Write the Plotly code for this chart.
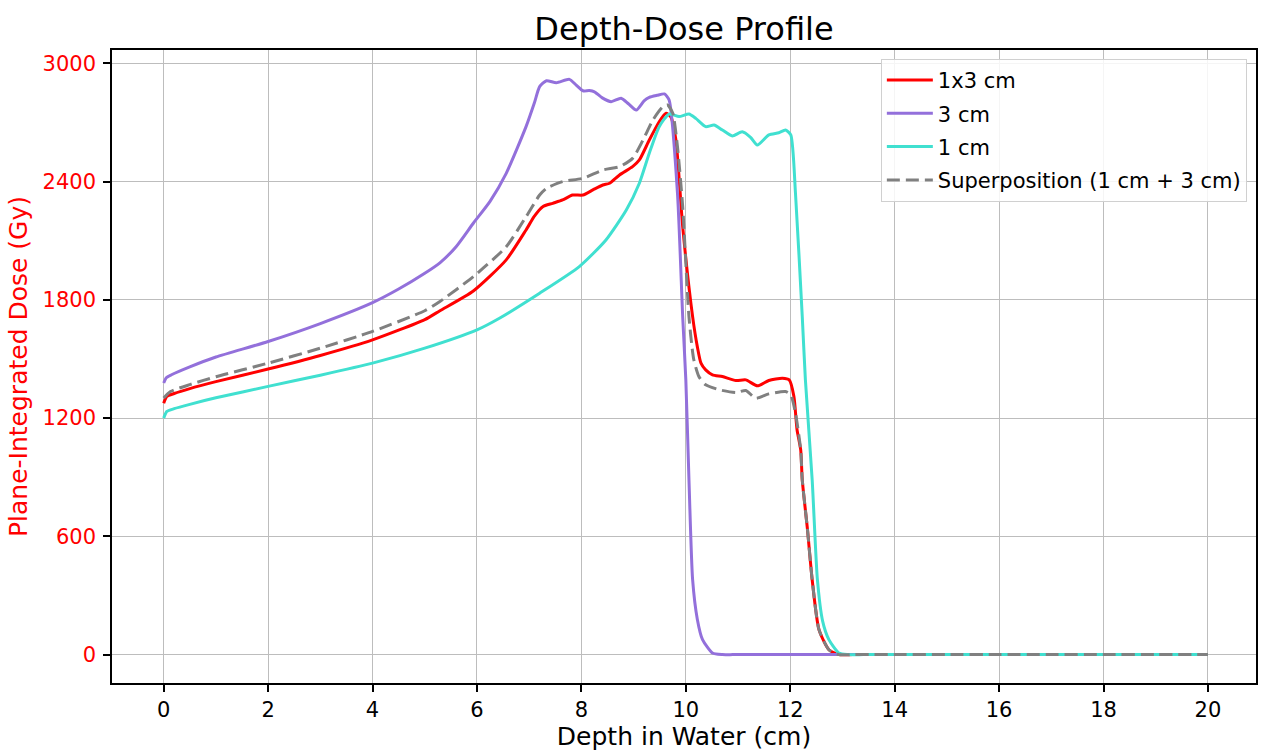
import plotly.graph_objects as go

# ---------------- data ----------------
x_1x3 = [0.0, 0.06, 0.2, 0.5, 1.0, 2.0, 3.0, 4.0, 5.0, 5.29, 5.93, 6.56, 6.94, 7.1, 7.26,
         7.45, 7.64, 7.83, 8.03, 8.22, 8.41, 8.54, 8.73, 8.98, 9.11, 9.30, 9.49, 9.62, 9.71,
         9.81, 9.94, 10.13, 10.22, 10.29, 10.38, 10.51, 10.70, 10.96, 11.15, 11.37, 11.59,
         11.85, 11.98, 12.07, 12.13, 12.20, 12.23, 12.33, 12.42, 12.55, 12.74, 12.93,
         13.2, 13.6, 14.0, 15.0, 16.0, 17.0, 18.0, 19.0, 20.0]
y_1x3 = [1276, 1310, 1325, 1350, 1385, 1449, 1518, 1597, 1700, 1745, 1845, 2003, 2155, 2225, 2273,
         2290, 2307, 2332, 2332, 2358, 2383, 2392, 2434, 2476, 2510, 2611, 2704, 2747, 2730,
         2611, 2172, 1715, 1563, 1479, 1445, 1420, 1411, 1391, 1394, 1364, 1391,
         1403, 1394, 1310, 1141, 1039, 887, 634, 380, 127, 25, 0,
         0, 0, 0, 0, 0, 0, 0, 0, 0]

x_3cm = [0.0, 0.05, 0.15, 0.5, 1.0, 2.0, 3.0, 4.0, 4.5, 5.0, 5.29, 5.6, 5.93, 6.25, 6.56, 6.94,
         7.1, 7.2, 7.33, 7.52, 7.77, 7.9, 8.03, 8.15, 8.25, 8.4, 8.57, 8.76, 8.9, 9.05, 9.2,
         9.3, 9.45, 9.59, 9.68, 9.84, 9.94, 10.0, 10.06, 10.13, 10.22, 10.32, 10.51, 10.7,
         10.9, 11.2, 11.6, 12.0, 13.0, 14.0, 15.0, 16.0, 17.0, 18.0, 19.0, 20.0]
y_3cm = [1378, 1405, 1420, 1460, 1510, 1589, 1680, 1786, 1855, 1935, 1988, 2070, 2189, 2300, 2442, 2679,
         2800, 2882, 2912, 2902, 2919, 2890, 2861, 2862, 2856, 2825, 2806, 2823, 2795, 2763, 2810,
         2828, 2838, 2845, 2814, 2341, 1715, 1394, 887, 380, 180, 76, 8, 0,
         0, 0, 0, 0, 0, 0, 0, 0, 0, 0, 0, 0]

x_1cm = [0.0, 0.06, 0.2, 0.5, 1.0, 2.0, 3.0, 4.0, 5.0, 6.0, 6.43, 7.2, 7.96, 8.47, 8.86, 9.11,
         9.30, 9.49, 9.68, 9.87, 10.06, 10.19, 10.38, 10.54, 10.70, 10.89, 11.08, 11.24, 11.37,
         11.59, 11.78, 11.91, 12.01, 12.10, 12.23, 12.29, 12.42, 12.52, 12.62, 12.74, 12.93, 13.1,
         13.4, 13.8, 14.5, 15.0, 16.0, 17.0, 18.0, 19.0, 20.0]
y_1cm = [1200, 1234, 1248, 1270, 1303, 1361, 1418, 1479, 1555, 1648, 1707, 1834, 1969, 2104, 2256, 2392,
         2544, 2679, 2743, 2730, 2743, 2721, 2679, 2687, 2662, 2632, 2653, 2625, 2586,
         2637, 2648, 2662, 2637, 2341, 1715, 1394, 887, 380, 170, 76, 8, 0,
         0, 0, 0, 0, 0, 0, 0, 0, 0]

x_sup = [0.0, 0.13, 0.5, 1.0, 2.0, 3.0, 4.0, 5.0, 5.29, 5.93, 6.56, 6.94, 7.2, 7.33, 7.64, 8.03,
         8.41, 8.73, 8.98, 9.18, 9.37, 9.56, 9.65, 9.75, 9.84, 9.94, 10.06, 10.15, 10.25, 10.38,
         10.64, 10.96, 11.15, 11.34, 11.59, 11.91, 12.01, 12.10, 12.20, 12.23, 12.33, 12.42,
         12.55, 12.74, 12.93, 13.2, 13.6, 14.0, 15.0, 16.0, 17.0, 18.0, 19.0, 20.0]
y_sup = [1302, 1335, 1370, 1410, 1479, 1555, 1640, 1745, 1792, 1918, 2070, 2222, 2332, 2366, 2400, 2417,
         2459, 2476, 2518, 2611, 2713, 2780, 2789, 2747, 2577, 2273, 1715, 1500, 1411, 1369,
         1344, 1330, 1340, 1301, 1323, 1335, 1318, 1225, 1039, 887, 634, 380,
         127, 25, 0, 0, 0, 0, 0, 0, 0, 0, 0, 0]

x_ticks = [0, 2, 4, 6, 8, 10, 12, 14, 16, 18, 20]
y_ticks = [0, 600, 1200, 1800, 2400, 3000]

FONT = "DejaVu Sans"
LW = 3.0
SMOOTH = 0.6

fig = go.Figure()
fig.add_trace(go.Scatter(x=x_1x3, y=y_1x3, mode="lines", name="1x3 cm", legendgroup="a",
                         line=dict(color="red", width=LW, shape="spline", smoothing=SMOOTH)))
fig.add_trace(go.Scatter(x=x_3cm, y=y_3cm, mode="lines", name="3 cm", legendgroup="b",
                         line=dict(color="mediumpurple", width=LW, shape="spline", smoothing=SMOOTH)))
fig.add_trace(go.Scatter(x=x_1cm, y=y_1cm, mode="lines", name="1 cm", legendgroup="c",
                         line=dict(color="turquoise", width=LW, shape="spline", smoothing=SMOOTH)))
fig.add_trace(go.Scatter(x=x_sup, y=y_sup, mode="lines", name="Superposition (1 cm + 3 cm)",
                         legendgroup="d",
                         line=dict(color="gray", width=LW, dash="13px,6px",
                                   shape="spline", smoothing=SMOOTH)))

fig.update_layout(
    width=1261, height=751,
    margin=dict(l=112, r=3, t=50, b=68),
    paper_bgcolor="white", plot_bgcolor="white",
    font=dict(family=FONT, size=21, color="black"),
    title=dict(text="Depth-Dose Profile", x=0.5, xref="paper", xanchor="center",
               y=0.962, yref="container", yanchor="middle",
               font=dict(family=FONT, size=32, color="black")),
    legend=dict(x=0.992, y=0.986, xanchor="right", yanchor="top",
                bgcolor="rgba(255,255,255,0.85)", bordercolor="#d0d0d0", borderwidth=1,
                font=dict(family=FONT, size=21, color="black"),
                tracegroupgap=3, itemwidth=46),
)
fig.update_xaxes(
    range=[-0.99, 20.92], tickvals=x_ticks, ticktext=[str(v) for v in x_ticks],
    showgrid=True, gridcolor="#bdbdbd", gridwidth=1.4,
    showline=True, linecolor="black", linewidth=1.5, mirror=True,
    ticks="outside", ticklen=7, tickwidth=1.5, tickcolor="black",
    tickfont=dict(family=FONT, size=21, color="black"),
    title=dict(text="Depth in Water (cm)", font=dict(family=FONT, size=25, color="black"), standoff=4),
    zeroline=False,
)
fig.update_yaxes(
    range=[-144, 3068], tickvals=y_ticks, ticktext=[str(v) for v in y_ticks],
    showgrid=True, gridcolor="#bdbdbd", gridwidth=1.4,
    showline=True, linecolor="black", linewidth=1.5, mirror=True,
    ticks="outside", ticklen=7, tickwidth=1.5, tickcolor="black",
    tickfont=dict(family=FONT, size=21, color="red"),
    ticklabelstandoff=3,
    title=dict(text="Plane-Integrated Dose (Gy)", font=dict(family=FONT, size=25, color="red"), standoff=8),
    zeroline=False,
)

fig.write_html("out.html")
